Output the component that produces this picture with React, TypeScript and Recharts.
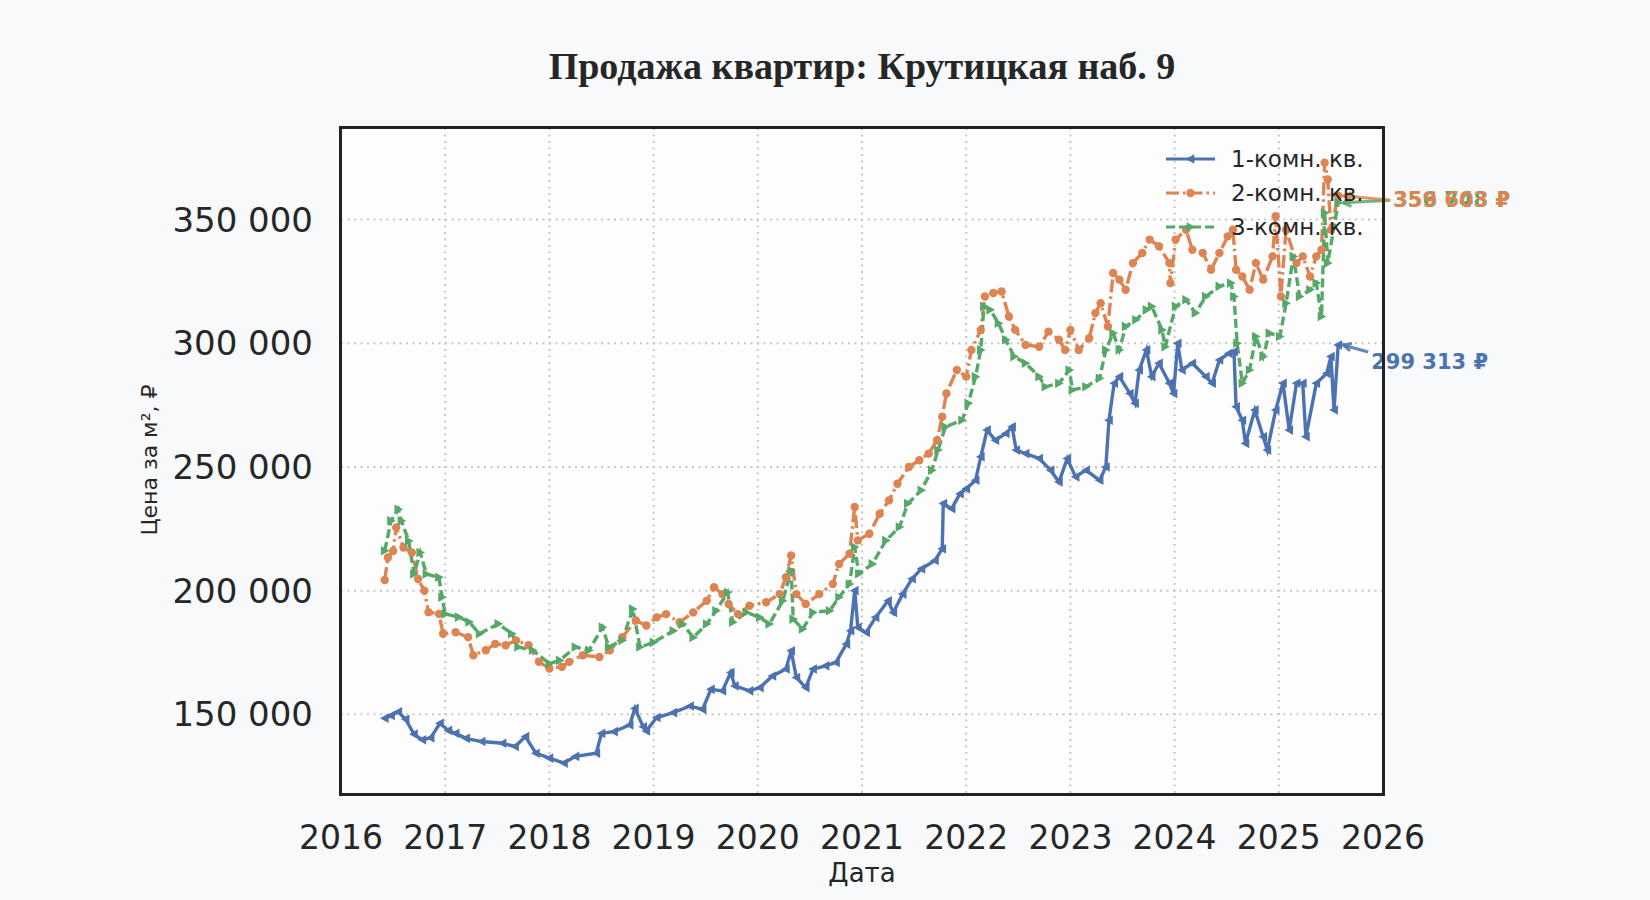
import React from "react";
import { LineChart, Line, XAxis, YAxis, CartesianGrid, ReferenceDot } from "recharts";

// decimal years + price per m²
const oneRoomYears = [
  2016.42, 2016.48, 2016.55, 2016.62, 2016.7, 2016.78, 2016.86, 2016.95, 2017.03, 2017.1,
  2017.2, 2017.35, 2017.55, 2017.67, 2017.77, 2017.87, 2018.0, 2018.14, 2018.25, 2018.45,
  2018.5, 2018.62, 2018.77, 2018.82, 2018.9, 2018.93, 2019.03, 2019.19, 2019.35, 2019.47,
  2019.55, 2019.66, 2019.74, 2019.78, 2019.92, 2020.02, 2020.14, 2020.27, 2020.32, 2020.37,
  2020.46, 2020.53, 2020.65, 2020.75, 2020.85, 2020.89, 2020.93, 2020.96, 2021.04, 2021.13,
  2021.25, 2021.3, 2021.39, 2021.48, 2021.57, 2021.7, 2021.77, 2021.78, 2021.86, 2021.94,
  2022.0, 2022.09, 2022.14, 2022.2, 2022.28, 2022.38, 2022.44, 2022.48, 2022.57, 2022.7,
  2022.81, 2022.89, 2022.97, 2023.05, 2023.15, 2023.28, 2023.34, 2023.37, 2023.42, 2023.47,
  2023.57, 2023.62, 2023.66, 2023.73, 2023.78, 2023.85, 2023.95, 2023.99, 2024.03, 2024.07,
  2024.17, 2024.3, 2024.36, 2024.43, 2024.52, 2024.57, 2024.59, 2024.65, 2024.68, 2024.77,
  2024.85, 2024.89, 2024.97, 2025.04, 2025.1, 2025.17, 2025.23, 2025.26, 2025.36, 2025.46,
  2025.5, 2025.53, 2025.57,
];
const oneRoomPrices = [
  148400, 149500, 151000, 148000, 142000, 139700, 140500, 146400, 143500, 142300,
  140300, 139000, 138300, 137000, 141000, 134300, 132300, 130300, 133000, 134300,
  142300, 143000, 145700, 152400, 145000, 143300, 148700, 150700, 153400, 152000,
  160100, 159500, 166900, 161500, 159500, 160800, 165500, 168300, 175700, 164900,
  160800, 168300, 169600, 171000, 178400, 183800, 200000, 185100, 183100, 189200,
  195900, 191200, 198600, 204800, 208800, 212200, 216900, 235200, 233100, 239200,
  241200, 244600, 254100, 264900, 260800, 263500, 266200, 256800, 255400, 253400,
  248700, 243900, 253400, 246000, 248700, 244600, 250000, 268900, 283800, 286500,
  279700, 275700, 289200, 297300, 286500, 291900, 283800, 279700, 300000, 289200,
  291900, 286500, 283800, 293200, 295900, 296600, 274300, 268900, 259500, 273000,
  262200, 256800, 273000, 283800, 264900, 283800, 283800, 262200, 283800, 287800,
  294600, 273000, 299313,
];

const twoRoomYears = [
  2016.42, 2016.45, 2016.5, 2016.53, 2016.6, 2016.68, 2016.74, 2016.8, 2016.84, 2016.94,
  2016.98, 2017.1, 2017.22, 2017.27, 2017.39, 2017.48, 2017.58, 2017.68, 2017.8, 2017.9,
  2018.0, 2018.12, 2018.19, 2018.32, 2018.48, 2018.58, 2018.7, 2018.83, 2018.93, 2019.03,
  2019.12, 2019.25, 2019.38, 2019.51, 2019.58, 2019.66, 2019.72, 2019.81, 2019.92, 2020.08,
  2020.21, 2020.27, 2020.32, 2020.37, 2020.46, 2020.59, 2020.72, 2020.78, 2020.88, 2020.93,
  2020.96, 2021.07, 2021.17, 2021.26, 2021.34, 2021.45, 2021.55, 2021.64, 2021.72, 2021.77,
  2021.81, 2021.91, 2022.0, 2022.05, 2022.14, 2022.18, 2022.26, 2022.34, 2022.41, 2022.47,
  2022.57, 2022.7, 2022.79, 2022.89, 2022.95, 2023.0, 2023.08, 2023.18, 2023.24, 2023.29,
  2023.36, 2023.41, 2023.47, 2023.53, 2023.6, 2023.69, 2023.76, 2023.85, 2023.95, 2023.96,
  2024.01, 2024.11, 2024.17, 2024.27, 2024.35, 2024.43, 2024.51, 2024.56, 2024.59, 2024.65,
  2024.72, 2024.78, 2024.85, 2024.94, 2024.97, 2025.02, 2025.07, 2025.17, 2025.23, 2025.3,
  2025.36, 2025.41, 2025.44, 2025.47, 2025.5, 2025.57,
];
const twoRoomPrices = [
  204300, 213400, 216000, 225500, 217400, 215400, 204700, 200000, 191300, 190600,
  182600, 183200, 181200, 173900, 175900, 178500, 177900, 179900, 177900, 171200,
  168500, 169200, 171200, 173900, 173200, 175900, 181200, 187900, 185900, 189200,
  190500, 187200, 191200, 195900, 201400, 198600, 194600, 190500, 193900, 195300,
  198600, 205400, 214200, 198600, 194600, 198600, 202700, 210800, 214900, 233800,
  220300, 223000, 231100, 236500, 243200, 250000, 252700, 255400, 260800, 270300,
  279700, 289200, 286500, 297300, 305400, 318900, 320300, 320900, 310800, 305400,
  299300, 298600, 304700, 301400, 297300, 305400, 297300, 302000, 312200, 316200,
  306800, 328400, 325700, 321600, 332400, 336500, 341900, 339200, 332400, 324300,
  341900, 345900, 337800, 336500, 329700, 336500, 343200, 345900, 329700, 327000,
  321600, 332400, 325700, 335100, 351300, 318900, 345900, 332400, 335100, 327000,
  335100, 337800, 373000, 366200, 345900, 359603,
];

const threeRoomYears = [
  2016.42, 2016.48, 2016.55, 2016.58, 2016.65, 2016.7, 2016.76, 2016.82, 2016.94, 2016.97,
  2017.0, 2017.13, 2017.23, 2017.33, 2017.51, 2017.64, 2017.7, 2017.84, 2018.0, 2018.1,
  2018.25, 2018.38, 2018.51, 2018.57, 2018.7, 2018.8, 2018.87, 2019.0, 2019.19, 2019.28,
  2019.38, 2019.51, 2019.6, 2019.71, 2019.76, 2019.89, 2020.02, 2020.11, 2020.24, 2020.32,
  2020.34, 2020.43, 2020.53, 2020.69, 2020.78, 2020.88, 2020.93, 2020.97, 2021.1, 2021.23,
  2021.36, 2021.44, 2021.57, 2021.67, 2021.73, 2021.8, 2021.96, 2022.02, 2022.09, 2022.14,
  2022.17, 2022.23, 2022.31, 2022.38, 2022.46, 2022.57, 2022.7, 2022.76, 2022.89, 2022.99,
  2023.02, 2023.15, 2023.28, 2023.34, 2023.41, 2023.47, 2023.53, 2023.63, 2023.73, 2023.78,
  2023.88, 2023.91, 2024.01, 2024.11, 2024.2, 2024.3, 2024.43, 2024.54, 2024.57, 2024.6,
  2024.65, 2024.72, 2024.78, 2024.85, 2024.91, 2025.01, 2025.07, 2025.14, 2025.2, 2025.3,
  2025.36, 2025.41, 2025.44, 2025.47, 2025.57,
];
const threeRoomPrices = [
  216100, 228200, 232900, 228200, 220100, 206700, 215400, 206700, 205400, 197300,
  190600, 189300, 187300, 182600, 186600, 182600, 177200, 175900, 170500, 171800,
  177200, 175900, 185200, 177200, 179900, 192600, 177200, 179100, 183800, 186500,
  181100, 186500, 191900, 199300, 187200, 191200, 189200, 186500, 195900, 208100,
  188500, 184500, 191200, 191900, 197300, 202700, 217600, 206800, 210800, 220300,
  225700, 235200, 240600, 248700, 256800, 266200, 268900, 275700, 286500, 297300,
  314900, 313500, 308100, 301400, 294600, 291900, 286500, 282400, 283800, 289200,
  281100, 282400, 285800, 297300, 304100, 297300, 306800, 309500, 313500, 314900,
  305400, 298600, 314900, 317600, 312200, 318900, 323000, 324300, 318900, 300000,
  283800, 289200, 302700, 294600, 304100, 302700, 316200, 335100, 318900, 321600,
  324300, 310800, 352700, 332400, 356748,
];

const seriesNames = ["1-комн. кв.", "2-комн. кв.", "3-комн. кв."];
const yearTicks = [2016, 2017, 2018, 2019, 2020, 2021, 2022, 2023, 2024, 2025, 2026];
const priceTicks = [150000, 200000, 250000, 300000, 350000];

const BLUE = "#4c72b0";
const ORANGE = "#dd8452";
const GREEN = "#55a868";
const INK = "#262626";

const toRows = (xs: number[], ys: number[]) => xs.map((x, i) => ({ x, y: ys[i] }));
const oneRoom = toRows(oneRoomYears, oneRoomPrices);
const twoRoom = toRows(twoRoomYears, twoRoomPrices);
const threeRoom = toRows(threeRoomYears, threeRoomPrices);

const fmt = (v: number) => String(Math.round(v)).replace(/\B(?=(\d{3})+(?!\d))/g, " ");

// plot box in page pixels
const PL = 341, PT = 128, PR = 1383, PB = 794;

const triLeft = (cx: number, cy: number, r: number) =>
  `${cx - r},${cy} ${cx + r * 0.8},${cy - r} ${cx + r * 0.8},${cy + r}`;
const triRight = (cx: number, cy: number, r: number) =>
  `${cx + r},${cy} ${cx - r * 0.8},${cy - r} ${cx - r * 0.8},${cy + r}`;

const blueDot = (p: any) =>
  p.cx == null ? <g key={p.index} /> : <polygon key={p.index} points={triLeft(p.cx, p.cy, 4.8)} fill={BLUE} />;
const orangeDot = (p: any) =>
  p.cx == null ? <g key={p.index} /> : <circle key={p.index} cx={p.cx} cy={p.cy} r={4.2} fill={ORANGE} />;
const greenDot = (p: any) =>
  p.cx == null ? <g key={p.index} /> : <polygon key={p.index} points={triRight(p.cx, p.cy, 4.8)} fill={GREEN} />;

// text placed at (cx+dx, cy+dy); arrow runs from (text start, text mid + ay0) back to the point
function endLabel(color: string, text: string, dx: number, dy: number, ay0: number) {
  return (p: any) => {
    const { cx, cy } = p;
    const tx = cx + dx;
    const ty = cy + dy;
    const ax = cx + 5;
    const ay = cy;
    const sx = tx - 3;
    const sy = ty + ay0;
    const ang = Math.atan2(sy - ay, sx - ax);
    const h = 9;
    const a1 = ang + 0.45, a2 = ang - 0.45;
    return (
      <g>
        <line x1={sx} y1={sy} x2={ax} y2={ay} stroke={color} strokeWidth={3} opacity={0.85} />
        <polyline
          points={`${ax + h * Math.cos(a1)},${ay + h * Math.sin(a1)} ${ax},${ay} ${ax + h * Math.cos(a2)},${ay + h * Math.sin(a2)}`}
          fill="none" stroke={color} strokeWidth={3} opacity={0.85}
        />
        <text x={tx} y={ty} fill={color} fontSize={21} fontWeight="bold" dominantBaseline="central"
          fontFamily="DejaVu Sans">{text}</text>
      </g>
    );
  };
}

function LegendBox() {
  const rows = [
    { name: seriesNames[0], color: BLUE, dash: undefined, mark: "left" },
    { name: seriesNames[1], color: ORANGE, dash: "13 4 2.5 4", mark: "dot" },
    { name: seriesNames[2], color: GREEN, dash: "9 4", mark: "right" },
  ];
  return (
    <g>
      {rows.map((r, i) => {
        const y = 159 + i * 34;
        const x0 = 1166, x1 = 1215, xm = (x0 + x1) / 2;
        return (
          <g key={r.name}>
            <line x1={x0} y1={y} x2={x1} y2={y} stroke={r.color} strokeWidth={3.2} strokeDasharray={r.dash} />
            {r.mark === "left" && <polygon points={triLeft(xm, y, 4.8)} fill={r.color} />}
            {r.mark === "dot" && <circle cx={xm} cy={y} r={4.2} fill={r.color} />}
            {r.mark === "right" && <polygon points={triRight(xm, y, 4.8)} fill={r.color} />}
            <text x={1231} y={y} fontSize={23} fill={INK} dominantBaseline="central" fontFamily="DejaVu Sans">
              {r.name}
            </text>
          </g>
        );
      })}
    </g>
  );
}

export default function App() {
  const last1 = oneRoom[oneRoom.length - 1];
  const last2 = twoRoom[twoRoom.length - 1];
  const last3 = threeRoom[threeRoom.length - 1];
  return (
    <div style={{ position: "absolute", left: 0, top: 0, width: 1650, height: 900, background: "#f7f9fb", overflow: "hidden" }}>
      <div style={{ position: "absolute", left: PL, top: PT, width: PR - PL, height: PB - PT, background: "#fdfdfd" }} />
      <div style={{ position: "absolute", left: 0, top: 0 }}>
        <LineChart width={1650} height={900} margin={{ top: PT, right: 1650 - PR, bottom: 900 - PB - 60, left: PL - 200 }}>
          <CartesianGrid stroke="#c6c6c6" strokeWidth={2} strokeDasharray="2 4.5" />
          <XAxis
            type="number" dataKey="x" domain={[2016, 2026]} ticks={yearTicks} allowDataOverflow
            height={60} axisLine={false} tickLine={false} tickSize={0} tickMargin={32}
            tick={{ fill: INK, fontSize: 33, fontFamily: "DejaVu Sans" }}
          />
          <YAxis
            type="number" dataKey="y" domain={[117800, 387000]} ticks={priceTicks} allowDataOverflow
            width={200} axisLine={false} tickLine={false} tickSize={0} tickMargin={28}
            tickFormatter={fmt} tick={{ fill: INK, fontSize: 34, fontFamily: "DejaVu Sans" }}
          />
          <Line data={oneRoom} dataKey="y" stroke={BLUE} strokeWidth={3.4} dot={blueDot} isAnimationActive={false} />
          <Line data={twoRoom} dataKey="y" stroke={ORANGE} strokeWidth={3.4} strokeDasharray="13 4 2.5 4" dot={orangeDot} isAnimationActive={false} />
          <Line data={threeRoom} dataKey="y" stroke={GREEN} strokeWidth={3.4} strokeDasharray="9 4" dot={greenDot} isAnimationActive={false} />
          <ReferenceDot x={last3.x} y={last3.y} shape={endLabel(GREEN, fmt(last3.y) + " ₽", 55, -2.5, 0)} />
          <ReferenceDot x={last2.x} y={last2.y} shape={endLabel(ORANGE, fmt(last2.y) + " ₽", 55, 4.5, 0)} />
          <ReferenceDot x={last1.x} y={last1.y} shape={endLabel(BLUE, fmt(last1.y) + " ₽", 33, 17, -10)} />
        </LineChart>
      </div>
      <div style={{ position: "absolute", left: PL - 2, top: PT - 2, width: PR - PL - 2, height: PB - PT - 2, border: "3px solid #222", pointerEvents: "none" }} />
      <svg width={1650} height={900} style={{ position: "absolute", left: 0, top: 0, pointerEvents: "none" }}>
        <text x={862} y={79} textAnchor="middle" fontSize={38} fontWeight="bold" fill={INK} fontFamily="Liberation Serif">
          Продажа квартир: Крутицкая наб. 9
        </text>
        <text x={862} y={882} textAnchor="middle" fontSize={26} fill={INK} fontFamily="DejaVu Sans">Дата</text>
        <text transform="rotate(-90 149 460)" x={149} y={460} textAnchor="middle" dominantBaseline="central" fontSize={22} fill={INK} fontFamily="DejaVu Sans">
          Цена за м², ₽
        </text>
        <LegendBox />
      </svg>
    </div>
  );
}
